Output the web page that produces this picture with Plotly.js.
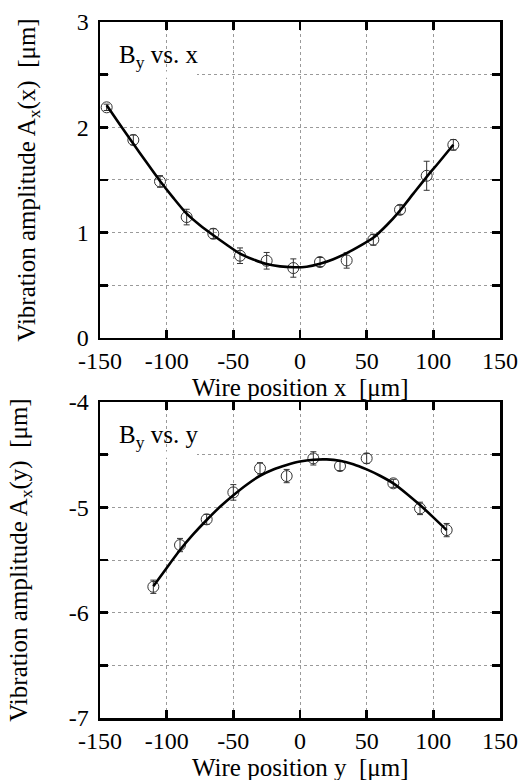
<!DOCTYPE html>
<html>
<head>
<meta charset="utf-8">
<script src="https://cdn.plot.ly/plotly-3.0.1.min.js"></script>
<style>html,body{margin:0;padding:0;background:#fff;}#chart{width:524px;height:780px;}</style>
</head>
<body>
<div id="chart"></div>
<script>
// ---- Data ----
// Top panel: B_y vs. x
const topX   = [-145, -125, -105, -85, -65, -45, -25, -5, 15, 35, 55, 75, 95, 115];
const topY   = [2.19, 1.88, 1.486, 1.148, 0.99, 0.781, 0.733, 0.664, 0.721, 0.736, 0.933, 1.217, 1.54, 1.834];
const topErr = [0.03, 0.047, 0.055, 0.074, 0.047, 0.074, 0.079, 0.087, 0.043, 0.073, 0.052, 0.043, 0.138, 0.05];
const topFitX = [-145, -135, -125, -115, -105, -95, -85, -75, -65, -55, -45, -35, -25, -15, -5, 5, 15, 25, 35, 45, 55, 65, 75, 85, 95, 105, 115];
const topFitY = [2.21, 2.025, 1.845, 1.665, 1.49, 1.33, 1.18, 1.07, 0.975, 0.885, 0.80, 0.745, 0.702, 0.68, 0.672, 0.677, 0.705, 0.748, 0.806, 0.875, 0.952, 1.07, 1.21, 1.37, 1.53, 1.68, 1.835];

// Bottom panel: B_y vs. y
const botX   = [-110, -90, -70, -50, -30, -10, 10, 30, 50, 70, 90, 110];
const botY   = [-5.754, -5.358, -5.114, -4.858, -4.630, -4.703, -4.535, -4.608, -4.535, -4.772, -5.01, -5.216];
const botErr = [0.063, 0.063, 0.047, 0.074, 0.054, 0.063, 0.063, 0.043, 0.047, 0.038, 0.059, 0.063];
const botFitX = [-110, -100, -90, -80, -70, -60, -50, -40, -30, -20, -10, 0, 10, 20, 30, 40, 50, 60, 70, 80, 90, 100, 110];
const botFitY = [-5.75, -5.575, -5.405, -5.255, -5.12, -4.995, -4.885, -4.785, -4.70, -4.64, -4.598, -4.565, -4.548, -4.545, -4.558, -4.59, -4.64, -4.70, -4.772, -4.87, -4.978, -5.095, -5.216];

// Ticks
const xTickVals = [-150, -100, -50, 0, 50, 100, 150];
const xTickText = ['-150', '-100', '-50', '0', '50', '100', '150'];
const topYTickVals = [0, 0.5, 1, 1.5, 2, 2.5, 3];
const topYTickText = ['0', ' ', '1', ' ', '2', ' ', '3'];
const botYTickVals = [-7, -6.5, -6, -5.5, -5, -4.5, -4];
const botYTickText = ['-7', ' ', '-6', ' ', '-5', ' ', '-4'];

// Text
const topXTitle = 'Wire position x\u00a0\u00a0[\u03bcm]';
const botXTitle = 'Wire position y\u00a0\u00a0[\u03bcm]';
const topYTitle = 'Vibration amplitude A<sub>x</sub>(x)\u00a0\u00a0[\u03bcm]';
const botYTitle = 'Vibration amplitude A<sub>x</sub>(y)\u00a0\u00a0[\u03bcm]';
const topLabel = 'B<sub>y</sub> vs. x';
const botLabel = 'B<sub>y</sub> vs. y';

// ---- Styling ----
const FONT = 'Liberation Serif, Times New Roman, DejaVu Serif, serif';
const markerStyle = {symbol: 'circle-open', size: 11, color: '#333', line: {width: 1, color: '#333'}};
const errStyle = (arr) => ({type: 'data', array: arr, visible: true, thickness: 1, width: 3, color: '#333'});
const fitLine = {color: '#000', width: 2.6, shape: 'spline', smoothing: 0.6};

const traces = [
  {x: topX, y: topY, mode: 'markers', marker: markerStyle, error_y: errStyle(topErr), xaxis: 'x', yaxis: 'y', hoverinfo: 'skip'},
  {x: topFitX, y: topFitY, mode: 'lines', line: fitLine, xaxis: 'x', yaxis: 'y', hoverinfo: 'skip'},
  {x: botX, y: botY, mode: 'markers', marker: markerStyle, error_y: errStyle(botErr), xaxis: 'x2', yaxis: 'y2', hoverinfo: 'skip'},
  {x: botFitX, y: botFitY, mode: 'lines', line: fitLine, xaxis: 'x2', yaxis: 'y2', hoverinfo: 'skip'}
];

function xAxis(anchor) {
  return {
    anchor: anchor, domain: [0, 1], range: [-150, 150],
    tickmode: 'array', tickvals: xTickVals, ticktext: xTickText,
    ticks: 'inside', ticklen: 8, tickwidth: 2.5, tickcolor: '#000',
    showline: true, linewidth: 2.5, linecolor: '#000', mirror: 'ticks',
    showgrid: true, gridcolor: '#9a9a9a', gridwidth: 1, griddash: 'dot',
    zeroline: false,
    tickfont: {family: FONT, size: 24, color: '#000'}
  };
}
function yAxis(anchor, domain, range, vals, text, title) {
  return {
    anchor: anchor, domain: domain, range: range,
    tickmode: 'array', tickvals: vals, ticktext: text,
    ticks: 'inside', ticklen: 8, tickwidth: 2.5, tickcolor: '#000',
    showline: true, linewidth: 2.5, linecolor: '#000', mirror: 'ticks',
    showgrid: true, gridcolor: '#9a9a9a', gridwidth: 1, griddash: 'dot',
    zeroline: false, ticklabelstandoff: 4,
    tickfont: {family: FONT, size: 24, color: '#000'},
    title: {text: title, font: {family: FONT, size: 25, color: '#000'}, standoff: 34}
  };
}

const titleFont = {family: FONT, size: 25, color: '#000'};

const layout = {
  width: 524, height: 780,
  margin: {l: 100, r: 24, t: 22, b: 62},
  paper_bgcolor: '#fff', plot_bgcolor: '#fff',
  showlegend: false,
  font: {family: FONT, color: '#000'},
  xaxis: xAxis('y'),
  yaxis: yAxis('x', [0.546, 1], [0, 3], topYTickVals, topYTickText, topYTitle),
  xaxis2: xAxis('y2'),
  yaxis2: yAxis('x2', [0, 0.454], [-7, -4], botYTickVals, botYTickText, botYTitle),
  shapes: [
    {type: 'rect', xref: 'x domain', yref: 'y', x0: 0.022, x1: 0.2425, y0: 2.47, y1: 2.53, fillcolor: '#fff', line: {width: 0}, layer: 'above'},
    {type: 'rect', xref: 'x2 domain', yref: 'y2', x0: 0.022, x1: 0.2425, y0: -4.53, y1: -4.47, fillcolor: '#fff', line: {width: 0}, layer: 'above'}
  ],
  annotations: [
    {text: topLabel, xref: 'x domain', yref: 'y domain', x: 0.043, y: 0.89, xanchor: 'left', yanchor: 'middle', showarrow: false, font: titleFont},
    {text: botLabel, xref: 'x2 domain', yref: 'y2 domain', x: 0.043, y: 0.89, xanchor: 'left', yanchor: 'middle', showarrow: false, font: titleFont},
    {text: topXTitle, xref: 'x domain', yref: 'y domain', x: 0.5, y: -0.156, xanchor: 'center', yanchor: 'middle', showarrow: false, font: titleFont},
    {text: botXTitle, xref: 'x2 domain', yref: 'y2 domain', x: 0.5, y: -0.156, xanchor: 'center', yanchor: 'middle', showarrow: false, font: titleFont}
  ]
};

Plotly.newPlot('chart', traces, layout, {staticPlot: true, displayModeBar: false});
</script>
</body>
</html>
